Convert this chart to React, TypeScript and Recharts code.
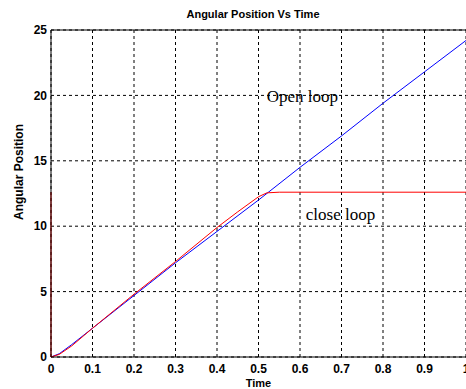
import { LineChart, Line, XAxis, YAxis, CartesianGrid, ReferenceLine, ReferenceDot } from 'recharts'

// open loop response
const timeOpen = [0, 0.02, 0.05, 0.1, 0.2, 0.3, 0.4, 0.5, 0.6, 0.7, 0.8, 0.9, 1.0]
const angleOpen = [0, 0.25, 0.95, 2.2, 4.7, 7.2, 9.6, 12.0, 14.5, 16.9, 19.4, 21.8, 24.2]

// close loop response (starts with the vertical segment on the axis)
const timeClose = [0, 0, 0.02, 0.05, 0.1, 0.2, 0.3, 0.4, 0.45, 0.5, 0.52, 0.55, 0.6, 0.7, 0.8, 0.9, 1.0]
const angleClose = [12.6, 0, 0.2, 0.85, 2.2, 4.8, 7.3, 9.9, 11.1, 12.25, 12.55, 12.6, 12.6, 12.6, 12.6, 12.6, 12.6]

const xTicks = [0, 0.1, 0.2, 0.3, 0.4, 0.5, 0.6, 0.7, 0.8, 0.9, 1]
const yTicks = [0, 5, 10, 15, 20, 25]

const openData = timeOpen.map((t, i) => ({ t, v: angleOpen[i] }))
const closeData = timeClose.map((t, i) => ({ t, v: angleClose[i] }))

const tickStyle = { fill: '#000', fontSize: 12, fontWeight: 700, fontFamily: 'Liberation Sans, Arial, sans-serif' }

const YLabel = () => (
  <text
    x={20}
    y={172}
    transform="rotate(-90 20 172)"
    textAnchor="middle"
    dominantBaseline="middle"
    fontSize={12}
    fontWeight={700}
    fontFamily="Liberation Sans, Arial, sans-serif"
    fill="#000"
  >
    Angular Position
  </text>
)

const App = () => {
  return (
    <div style={{ position: 'absolute', left: 0, top: 0, width: 466, height: 389, overflow: 'hidden', background: '#fff' }}>
      <div
        style={{
          position: 'absolute', left: 0, top: 8, width: 506, textAlign: 'center',
          fontSize: 11, fontWeight: 700, fontFamily: 'Liberation Sans, Arial, sans-serif', color: '#000'
        }}
      >
        Angular Position Vs Time
      </div>
      <LineChart width={480} height={389} margin={{ top: 30, right: 14, bottom: 0, left: 0 }}>
        <CartesianGrid stroke="#000" strokeDasharray="3 3" />
        <XAxis
          dataKey="t"
          type="number"
          domain={[0, 1]}
          ticks={xTicks}
          interval={0}
          height={32}
          tickSize={0}
          tickMargin={7}
          tick={tickStyle}
          stroke="#000"
          allowDuplicatedCategory={false}
          label={{ value: 'Time', position: 'insideBottom', offset: 2, fill: '#000', fontSize: 11, fontWeight: 700, fontFamily: 'Liberation Sans, Arial, sans-serif' }}
        />
        <YAxis
          type="number"
          domain={[0, 25]}
          ticks={yTicks}
          interval={0}
          width={51}
          tickSize={0}
          tickMargin={4}
          tick={tickStyle}
          stroke="#000"
          label={<YLabel />}
        />
        <ReferenceLine y={25} stroke="#000" />
        <Line data={openData} dataKey="v" type="linear" stroke="#0000ff" strokeWidth={1} dot={false} isAnimationActive={false} />
        <Line data={closeData} dataKey="v" type="linear" stroke="#ff0000" strokeWidth={1} dot={false} isAnimationActive={false} />
        <ReferenceDot
          x={0.52}
          y={19.95}
          r={0}
          fill="none"
          stroke="none"
          label={{ value: 'Open loop', position: 'right', offset: 0, fill: '#000', fontSize: 17, fontFamily: 'Liberation Serif, Times New Roman, serif' }}
        />
        <ReferenceDot
          x={0.614}
          y={10.9}
          r={0}
          fill="none"
          stroke="none"
          label={{ value: 'close loop', position: 'right', offset: 0, fill: '#000', fontSize: 17, fontFamily: 'Liberation Serif, Times New Roman, serif' }}
        />
      </LineChart>
    </div>
  )
}

export default App
